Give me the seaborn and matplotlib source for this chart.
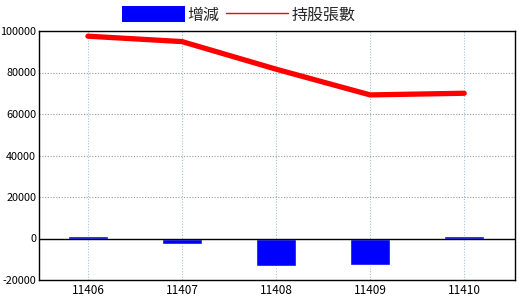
import matplotlib
matplotlib.use("Agg")
import matplotlib.pyplot as plt
import seaborn as sns
import pandas as pd
from matplotlib.lines import Line2D
from matplotlib.patches import Patch

periods = ["11406", "11407", "11408", "11409", "11410"]
change = [1300, -2800, -13300, -12800, 1300]
holdings = [97500, 94900, 81600, 69200, 70000]
yticks = [-20000, 0, 20000, 40000, 60000, 80000, 100000]

sns.set_theme(style="white")
plt.rcParams['font.family'] = ['Noto Sans CJK TC', 'DejaVu Sans']

df = pd.DataFrame({"period": periods, "change": change, "holdings": holdings})

fig = plt.figure(figsize=(5.2, 3.0), dpi=100)
ax = fig.add_axes([39/520, 1 - 280/300, (515-39)/520, (280-31)/300])

sns.barplot(data=df, x="period", y="change", color="#0000ff", saturation=1,
            width=0.43, ax=ax, zorder=3)
sns.lineplot(data=df, x="period", y="holdings", color="#ff0000", linewidth=3.8,
             ax=ax, zorder=4)

ax.set_xlim(-0.52, 4.54)
ax.set_ylim(-20000, 100000)
ax.set_yticks(yticks)
ax.set_yticklabels([str(v) for v in yticks])
ax.set_xlabel("")
ax.set_ylabel("")
ax.axhline(0, color="black", linewidth=1.0, zorder=5)
for v in yticks[2:]:
    ax.axhline(v, color="#999999", linestyle=(0, (1, 1.5)), linewidth=0.8, zorder=1)
for i in range(len(periods)):
    ax.axvline(i, color="#9fc4d8", linestyle=(0, (1, 1.5)), linewidth=0.8, zorder=1)
for s in ax.spines.values():
    s.set_color("black")
    s.set_linewidth(1.0)
ax.tick_params(axis="x", labelsize=8.5, length=0, pad=3, colors="black")
ax.tick_params(axis="y", labelsize=7.8, length=0, pad=2, colors="black")

handles = [Patch(facecolor="#0000ff", edgecolor="none"),
           Line2D([0], [0], color="#ff0000", linewidth=1)]
fig.legend(handles, ["增減", "持股張數"], loc="center", bbox_to_anchor=(239/520, 1 - 15/300),
           ncol=2, frameon=False, fontsize=11.5, handlelength=3.9, handleheight=1.1,
           handletextpad=0.2, columnspacing=0.4, borderpad=0)

fig.savefig("out.png", dpi=100)
